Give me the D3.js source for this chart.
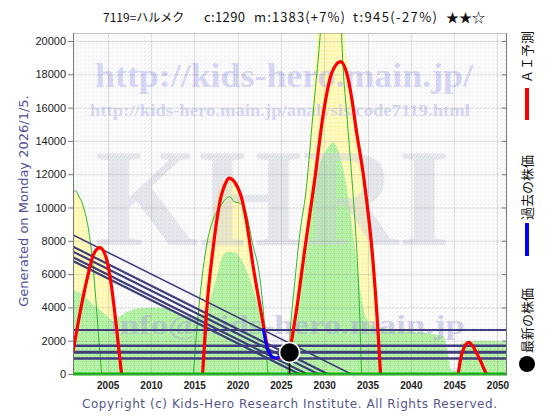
<!DOCTYPE html>
<html>
<head>
<meta charset="utf-8">
<script src="https://cdn.jsdelivr.net/npm/d3@7"></script>
<style>
  body { margin: 0; background: #fff; }
  svg { display: block; }
</style>
</head>
<body>
<svg id="chart" width="560" height="420"></svg>
<script>
// ---- texts ----
const titleParts = ['7119=ハルメク', 'c:1290', 'm:1383(+7%)', 't:945(-27%)', '★★☆'];
const generatedText = 'Generated on Monday 2026/1/5.';
const copyrightText = 'Copyright (c) Kids-Hero Research Institute. All Rights Reserved.';
const legendLabels = ['ＡＩ予測', '過去の株価', '最新の株価'];

// ---- ticks ----
const yTicks = [0, 2000, 4000, 6000, 8000, 10000, 12000, 14000, 16000, 18000, 20000];
const xTicks = [2005, 2010, 2015, 2020, 2025, 2030, 2035, 2040, 2045, 2050];

// ---- series, [year, price] ----
// AI forecast (red), drawn as separate arches
const aiForecast = [
    [[2001.0, 1320], [2001.8, 3650], [2002.6, 5650], [2003.35, 7150], [2004.1, 7590],
     [2004.9, 6850], [2005.5, 5050], [2006.05, 2640], [2006.6, 0]],
    [[2015.96, 0], [2016.4, 3640], [2017.2, 7650], [2018.0, 10450], [2018.7, 11550],
     [2019.0, 11770], [2020.3, 10850], [2021.0, 9250], [2021.8, 6450], [2022.6, 4040],
     [2023.15, 2440], [2023.6, 1300], [2024.3, 950], [2025.0, 1000], [2026.0, 1290],
     [2026.25, 2040], [2026.8, 3840], [2027.8, 7650], [2028.9, 11650], [2029.9, 15650],
     [2030.85, 18060], [2031.9, 18760], [2032.6, 18060], [2033.15, 16650], [2033.7, 14650],
     [2034.6, 11650], [2035.65, 6650], [2036.2, 2640], [2036.5, 0]],
    [[2045.47, 0], [2045.9, 1250], [2046.7, 1900], [2047.6, 1250], [2048.7, 0]]
];

// past prices (blue)
const pastPrice = [[2022.95, 2740], [2023.2, 2040], [2023.5, 1440], [2023.9, 1040],
    [2024.5, 940], [2025.1, 1140], [2026.0, 1290]];

// latest price (black dot)
const latestYear = 2026.0;
const latestPrice = 1290;

// upper band (yellow fill)
const upperBand = [
    [2001, 10950], [2001.6, 10750], [2002.2, 10050], [2002.8, 8650], [2003.25, 7300],
    [2003.7, 7600], [2004.1, 7800], [2004.9, 7000], [2005.5, 5300], [2006.05, 2900], [2006.7, 0],
    [2014.8, 0], [2015.4, 3200], [2015.9, 5600], [2016.4, 7800], [2017.2, 9900], [2018.0, 11300],
    [2018.7, 11750], [2019.0, 11900], [2020.3, 11000], [2021.0, 9400], [2021.8, 6600],
    [2022.6, 4200], [2023.2, 2600], [2023.6, 0],
    [2025.8, 0], [2026.1, 2600], [2026.5, 4400], [2027.0, 6600], [2027.6, 9800], [2028.3, 13500],
    [2029.0, 19500], [2029.3, 21500], [2032.1, 21500], [2032.6, 19000], [2033.5, 16000],
    [2034.4, 13000], [2035.2, 10000], [2035.9, 6500], [2036.4, 3000], [2036.8, 0], [2051.1, 0]
];

// lower band (green fill)
const lowerBand = [
    [2001, 5050], [2002.2, 4750], [2003, 4340], [2003.8, 3960], [2004.6, 3650], [2005.4, 3300],
    [2006.2, 3400], [2007.3, 3750], [2008.8, 3950], [2010.5, 4000], [2012, 3900], [2013.5, 3600],
    [2014.8, 3400], [2015.8, 3500], [2016.6, 4200], [2017.5, 5650], [2018.3, 7100], [2019.0, 7350],
    [2019.7, 7300], [2020.5, 6800], [2021.2, 6000], [2022.2, 4400], [2023.0, 2840], [2023.6, 1800],
    [2024.3, 1100], [2025.0, 900], [2025.6, 1100], [2026.3, 2500], [2027.0, 4500], [2027.8, 8000],
    [2028.6, 11000], [2029.4, 12500], [2030.3, 13500], [2031.0, 13900], [2031.7, 13300],
    [2032.5, 11500], [2033.2, 9000], [2033.9, 6000], [2034.6, 3800], [2035.5, 2900], [2037, 2750],
    [2039, 2650], [2041, 2500], [2043, 2350], [2043.8, 2250], [2044.3, 1200], [2044.7, 200],
    [2045.3, 200], [2045.7, 1800], [2046.5, 1950], [2048.5, 2000], [2051.1, 1900]
];

// thin green edge lines
const bandEdges = [
    [[2001, 10950], [2001.3, 11000], [2001.6, 10750], [2002.2, 10050], [2002.8, 8650],
     [2003.2, 7050], [2003.55, 5050], [2003.9, 2640], [2004.3, 0]],
    [[2014.9, 0], [2015.4, 3300], [2015.9, 5800], [2016.4, 7650], [2017.2, 9300], [2018.0, 10050],
     [2018.6, 10500], [2019.1, 10650], [2019.6, 10350], [2020.3, 10250], [2021.0, 9650],
     [2021.7, 7900], [2022.6, 5650], [2023.1, 3000], [2023.5, 0]],
    [[2025.8, 0], [2026.1, 2700], [2026.6, 5500], [2027.2, 8500], [2027.9, 11000],
     [2028.6, 15000], [2029.4, 19500], [2029.8, 22000]],
    [[2031.9, 22000], [2032.0, 20480], [2032.7, 15000], [2033.3, 11000], [2033.8, 7000],
     [2034.1, 3500], [2034.3, 0]]
];

// falling trend lines, [start, end]
const trendLines = [
    [[2001, 8350], [2033.1, 0]],
    [[2001, 7650], [2030.4, 0]],
    [[2001, 7350], [2029.3, 0]],
    [[2001, 7010], [2028.0, 0]],
    [[2001, 6790], [2027.1, 0]]
];
const trendWidths = [1.6, 2.2, 2.2, 2.2, 2.2];

// horizontal support / resistance levels
const levelLines = [2650, 1700, 1300, 930];
const levelWidths = [2, 2.4, 3, 2.4];

// ---- layout ----
const svg = d3.select('#chart');
const plot = {left: 73, right: 507, top: 33, bottom: 374};

const x = d3.scaleLinear().domain([2001, 2051.1]).range([plot.left, plot.right]);
const y = d3.scaleLinear().domain([0, 20480]).range([plot.bottom, plot.top]);

const defs = svg.append('defs');

// speckled fills, like the dithered gif of the original
function speckle(id, base, dots) {
    let p = defs.append('pattern')
        .attr('id', id)
        .attr('patternUnits', 'userSpaceOnUse')
        .attr('width', 4).attr('height', 4);
    p.append('rect').attr('width', 4).attr('height', 4).attr('fill', base);
    dots.forEach(function(d) {
        p.append('rect')
            .attr('x', d[0]).attr('y', d[1])
            .attr('width', 1).attr('height', 1)
            .attr('fill', d[2]);
    });
}
speckle('bgDots', '#ffffff', [[0, 0, '#f6dcf6'], [2, 1, '#dcf2f6'], [1, 3, '#e6e6e6']]);
speckle('yellowDots', '#fff9b8', [[0, 0, '#ffffe8'], [2, 2, '#f4ec9c']]);
speckle('greenDots', '#b2f0a0', [[0, 0, '#d4fcc4'], [2, 1, '#94e084'], [1, 3, '#a8f0cc'], [3, 2, '#c4f8b0']]);

defs.append('clipPath').attr('id', 'plotClip')
    .append('rect')
        .attr('x', plot.left).attr('y', plot.top)
        .attr('width', plot.right - plot.left)
        .attr('height', plot.bottom - plot.top);

// plot background
svg.append('rect')
    .attr('x', plot.left).attr('y', plot.top)
    .attr('width', plot.right - plot.left)
    .attr('height', plot.bottom - plot.top)
    .attr('fill', 'url(#bgDots)');

let g = svg.append('g').attr('clip-path', 'url(#plotClip)');

let area = d3.area()
    .x(function(d){ return x(d[0]); })
    .y0(y(0))
    .y1(function(d){ return y(d[1]); })
    .curve(d3.curveMonotoneX);

let line = d3.line()
    .x(function(d){ return x(d[0]); })
    .y(function(d){ return y(d[1]); })
    .curve(d3.curveMonotoneX);

g.append('path').attr('d', area(upperBand)).attr('fill', 'url(#yellowDots)');
g.append('path').attr('d', area(lowerBand)).attr('fill', 'url(#greenDots)');

// watermarks
let serif = 'Liberation Serif, DejaVu Serif, serif';
g.append('text')
    .attr('x', 95).attr('y', 87)
    .attr('textLength', 378).attr('lengthAdjust', 'spacingAndGlyphs')
    .attr('font-family', serif).attr('font-weight', 'bold').attr('font-size', 34)
    .attr('fill', '#bcbcf0').attr('opacity', 0.6)
    .text('http://kids-hero.main.jp/');
g.append('text')
    .attr('x', 90).attr('y', 116)
    .attr('textLength', 380).attr('lengthAdjust', 'spacingAndGlyphs')
    .attr('font-family', serif).attr('font-weight', 'bold').attr('font-size', 17)
    .attr('fill', '#bcbcf0').attr('opacity', 0.6)
    .text('http://kids-hero.main.jp/analysis/code7119.html');
g.append('text')
    .attr('x', 95).attr('y', 245)
    .attr('textLength', 355).attr('lengthAdjust', 'spacingAndGlyphs')
    .attr('font-family', serif).attr('font-weight', 'bold').attr('font-size', 140)
    .attr('fill', '#ccccda').attr('opacity', 0.45)
    .text('KHRI');
g.append('text')
    .attr('x', 110).attr('y', 334)
    .attr('textLength', 355).attr('lengthAdjust', 'spacingAndGlyphs')
    .attr('font-family', serif).attr('font-weight', 'bold').attr('font-size', 27)
    .attr('fill', '#a8a8d8').attr('opacity', 0.5)
    .text('info@kids-hero.main.jp');

// grid
g.selectAll('.hgrid').data(yTicks).enter()
    .append('line')
        .attr('class', 'hgrid')
        .attr('x1', plot.left).attr('x2', plot.right)
        .attr('y1', function(d){ return y(d) + 0.5; })
        .attr('y2', function(d){ return y(d) + 0.5; })
        .attr('stroke', 'rgba(120,120,120,0.22)');
g.selectAll('.vgrid').data(xTicks).enter()
    .append('line')
        .attr('class', 'vgrid')
        .attr('y1', plot.top).attr('y2', plot.bottom)
        .attr('x1', function(d){ return Math.round(x(d)) + 0.5; })
        .attr('x2', function(d){ return Math.round(x(d)) + 0.5; })
        .attr('stroke', 'rgba(120,120,120,0.22)');

// green edge lines
g.selectAll('.edge').data(bandEdges).enter()
    .append('path')
        .attr('class', 'edge')
        .attr('d', line)
        .attr('fill', 'none')
        .attr('stroke', '#2fb52f')
        .attr('stroke-width', 1);

// levels and trends
g.selectAll('.level').data(levelLines).enter()
    .append('line')
        .attr('class', 'level')
        .attr('x1', plot.left).attr('x2', plot.right)
        .attr('y1', function(d){ return y(d); })
        .attr('y2', function(d){ return y(d); })
        .attr('stroke', '#3e3e7c')
        .attr('stroke-width', function(d, i){ return levelWidths[i]; });

g.selectAll('.trend').data(trendLines).enter()
    .append('line')
        .attr('class', 'trend')
        .attr('x1', function(d){ return x(d[0][0]); })
        .attr('y1', function(d){ return y(d[0][1]); })
        .attr('x2', function(d){ return x(d[1][0]); })
        .attr('y2', function(d){ return y(d[1][1]); })
        .attr('stroke', '#3e3e7c')
        .attr('stroke-width', function(d, i){ return trendWidths[i]; });

// AI forecast
g.selectAll('.ai').data(aiForecast).enter()
    .append('path')
        .attr('class', 'ai')
        .attr('d', line)
        .attr('fill', 'none')
        .attr('stroke', '#ff0000')
        .attr('stroke-width', 3.2)
        .attr('stroke-linejoin', 'round');

// past price
g.append('path')
    .attr('d', d3.line()
        .x(function(d){ return x(d[0]); })
        .y(function(d){ return y(d[1]); })(pastPrice))
    .attr('fill', 'none')
    .attr('stroke', '#0000ff')
    .attr('stroke-width', 3);

// zero baseline
svg.append('line')
    .attr('x1', plot.left).attr('x2', plot.right)
    .attr('y1', y(0)).attr('y2', y(0))
    .attr('stroke', '#00b400')
    .attr('stroke-width', 3);

// latest price marker
svg.append('line')
    .attr('x1', x(latestYear)).attr('x2', x(latestYear))
    .attr('y1', y(latestPrice)).attr('y2', y(0))
    .attr('stroke', '#000')
    .attr('stroke-width', 1.5);
svg.append('circle')
    .attr('cx', x(latestYear)).attr('cy', y(latestPrice))
    .attr('r', 10)
    .attr('fill', '#000')
    .attr('stroke', '#fff')
    .attr('stroke-width', 1.5);

// frame
svg.append('rect')
    .attr('x', plot.left + 0.5).attr('y', plot.top + 0.5)
    .attr('width', plot.right - plot.left - 1)
    .attr('height', plot.bottom - plot.top)
    .attr('fill', 'none')
    .attr('stroke', '#8a8a8a')
    .attr('stroke-dasharray', '1,1');
svg.append('line')
    .attr('x1', plot.left + 0.5).attr('x2', plot.left + 0.5)
    .attr('y1', plot.top).attr('y2', plot.bottom)
    .attr('stroke', '#777');
svg.append('line')
    .attr('x1', plot.right - 0.5).attr('x2', plot.right - 0.5)
    .attr('y1', plot.top).attr('y2', plot.bottom)
    .attr('stroke', '#777');

// axes
let sans = 'Liberation Sans, Arial, sans-serif';
let yAxis = svg.append('g')
    .attr('transform', 'translate(' + plot.left + ',0)')
    .call(d3.axisLeft(y).tickValues(yTicks).tickSize(5).tickPadding(2).tickFormat(d3.format('d')));
yAxis.select('.domain').remove();
yAxis.selectAll('line').attr('stroke', '#777');
yAxis.selectAll('text')
    .attr('font-family', sans).attr('font-size', 11).attr('fill', '#222');

let rAxis = svg.append('g')
    .attr('transform', 'translate(' + plot.right + ',0)')
    .call(d3.axisRight(y).tickValues(yTicks).tickSize(-5).tickFormat(''));
rAxis.select('.domain').remove();
rAxis.selectAll('line').attr('stroke', '#777');

let xAxis = svg.append('g')
    .attr('transform', 'translate(0,' + plot.bottom + ')')
    .call(d3.axisBottom(x).tickValues(xTicks).tickSize(0).tickPadding(8).tickFormat(d3.format('d')));
xAxis.select('.domain').remove();
xAxis.selectAll('text')
    .attr('font-family', sans).attr('font-size', 10).attr('font-weight', 'bold').attr('fill', '#222');

// title; the ascii parts are spread to the width they have in the original
let titleX = [103, 204, 254, 353, 446];
let titleW = [0, 41, 91, 84, 0];
let titleSize = [12, 13, 13, 13, 13];
svg.selectAll('.title').data(titleParts).enter()
    .append('text')
        .attr('class', 'title')
        .attr('x', function(d, i){ return titleX[i]; })
        .attr('y', 22)
        .attr('textLength', function(d, i){ return titleW[i] || null; })
        .attr('lengthAdjust', 'spacing')
        .attr('font-family', 'Noto Sans CJK JP, sans-serif')
        .attr('font-size', function(d, i){ return titleSize[i]; })
        .attr('fill', '#111')
        .text(function(d){ return d; });

// generated-on label (left, vertical)
svg.append('text')
    .attr('transform', 'translate(28,201) rotate(-90)')
    .attr('text-anchor', 'middle')
    .attr('font-family', 'DejaVu Sans, sans-serif')
    .attr('font-size', 13)
    .attr('fill', '#50509a')
    .text(generatedText);

// copyright
svg.append('text')
    .attr('x', 82).attr('y', 408)
    .attr('textLength', 415).attr('lengthAdjust', 'spacing')
    .attr('font-family', 'DejaVu Sans, sans-serif')
    .attr('font-size', 12)
    .attr('fill', '#56568e')
    .text(copyrightText);

// legend (right, vertical)
let legendBottom = [83, 220, 353];
svg.selectAll('.legend').data(legendLabels).enter()
    .append('text')
        .attr('class', 'legend')
        .attr('transform', function(d, i){ return 'translate(532,' + legendBottom[i] + ') rotate(-90)'; })
        .attr('font-family', 'Noto Sans CJK JP, sans-serif')
        .attr('font-size', 13)
        .attr('fill', '#111')
        .text(function(d){ return d; });
svg.append('rect').attr('x', 525).attr('y', 88).attr('width', 4).attr('height', 32).attr('fill', '#ff0000');
svg.append('rect').attr('x', 525).attr('y', 223).attr('width', 4).attr('height', 33).attr('fill', '#0000ff');
svg.append('circle').attr('cx', 527).attr('cy', 364).attr('r', 8).attr('fill', '#000');
</script>
</body>
</html>
